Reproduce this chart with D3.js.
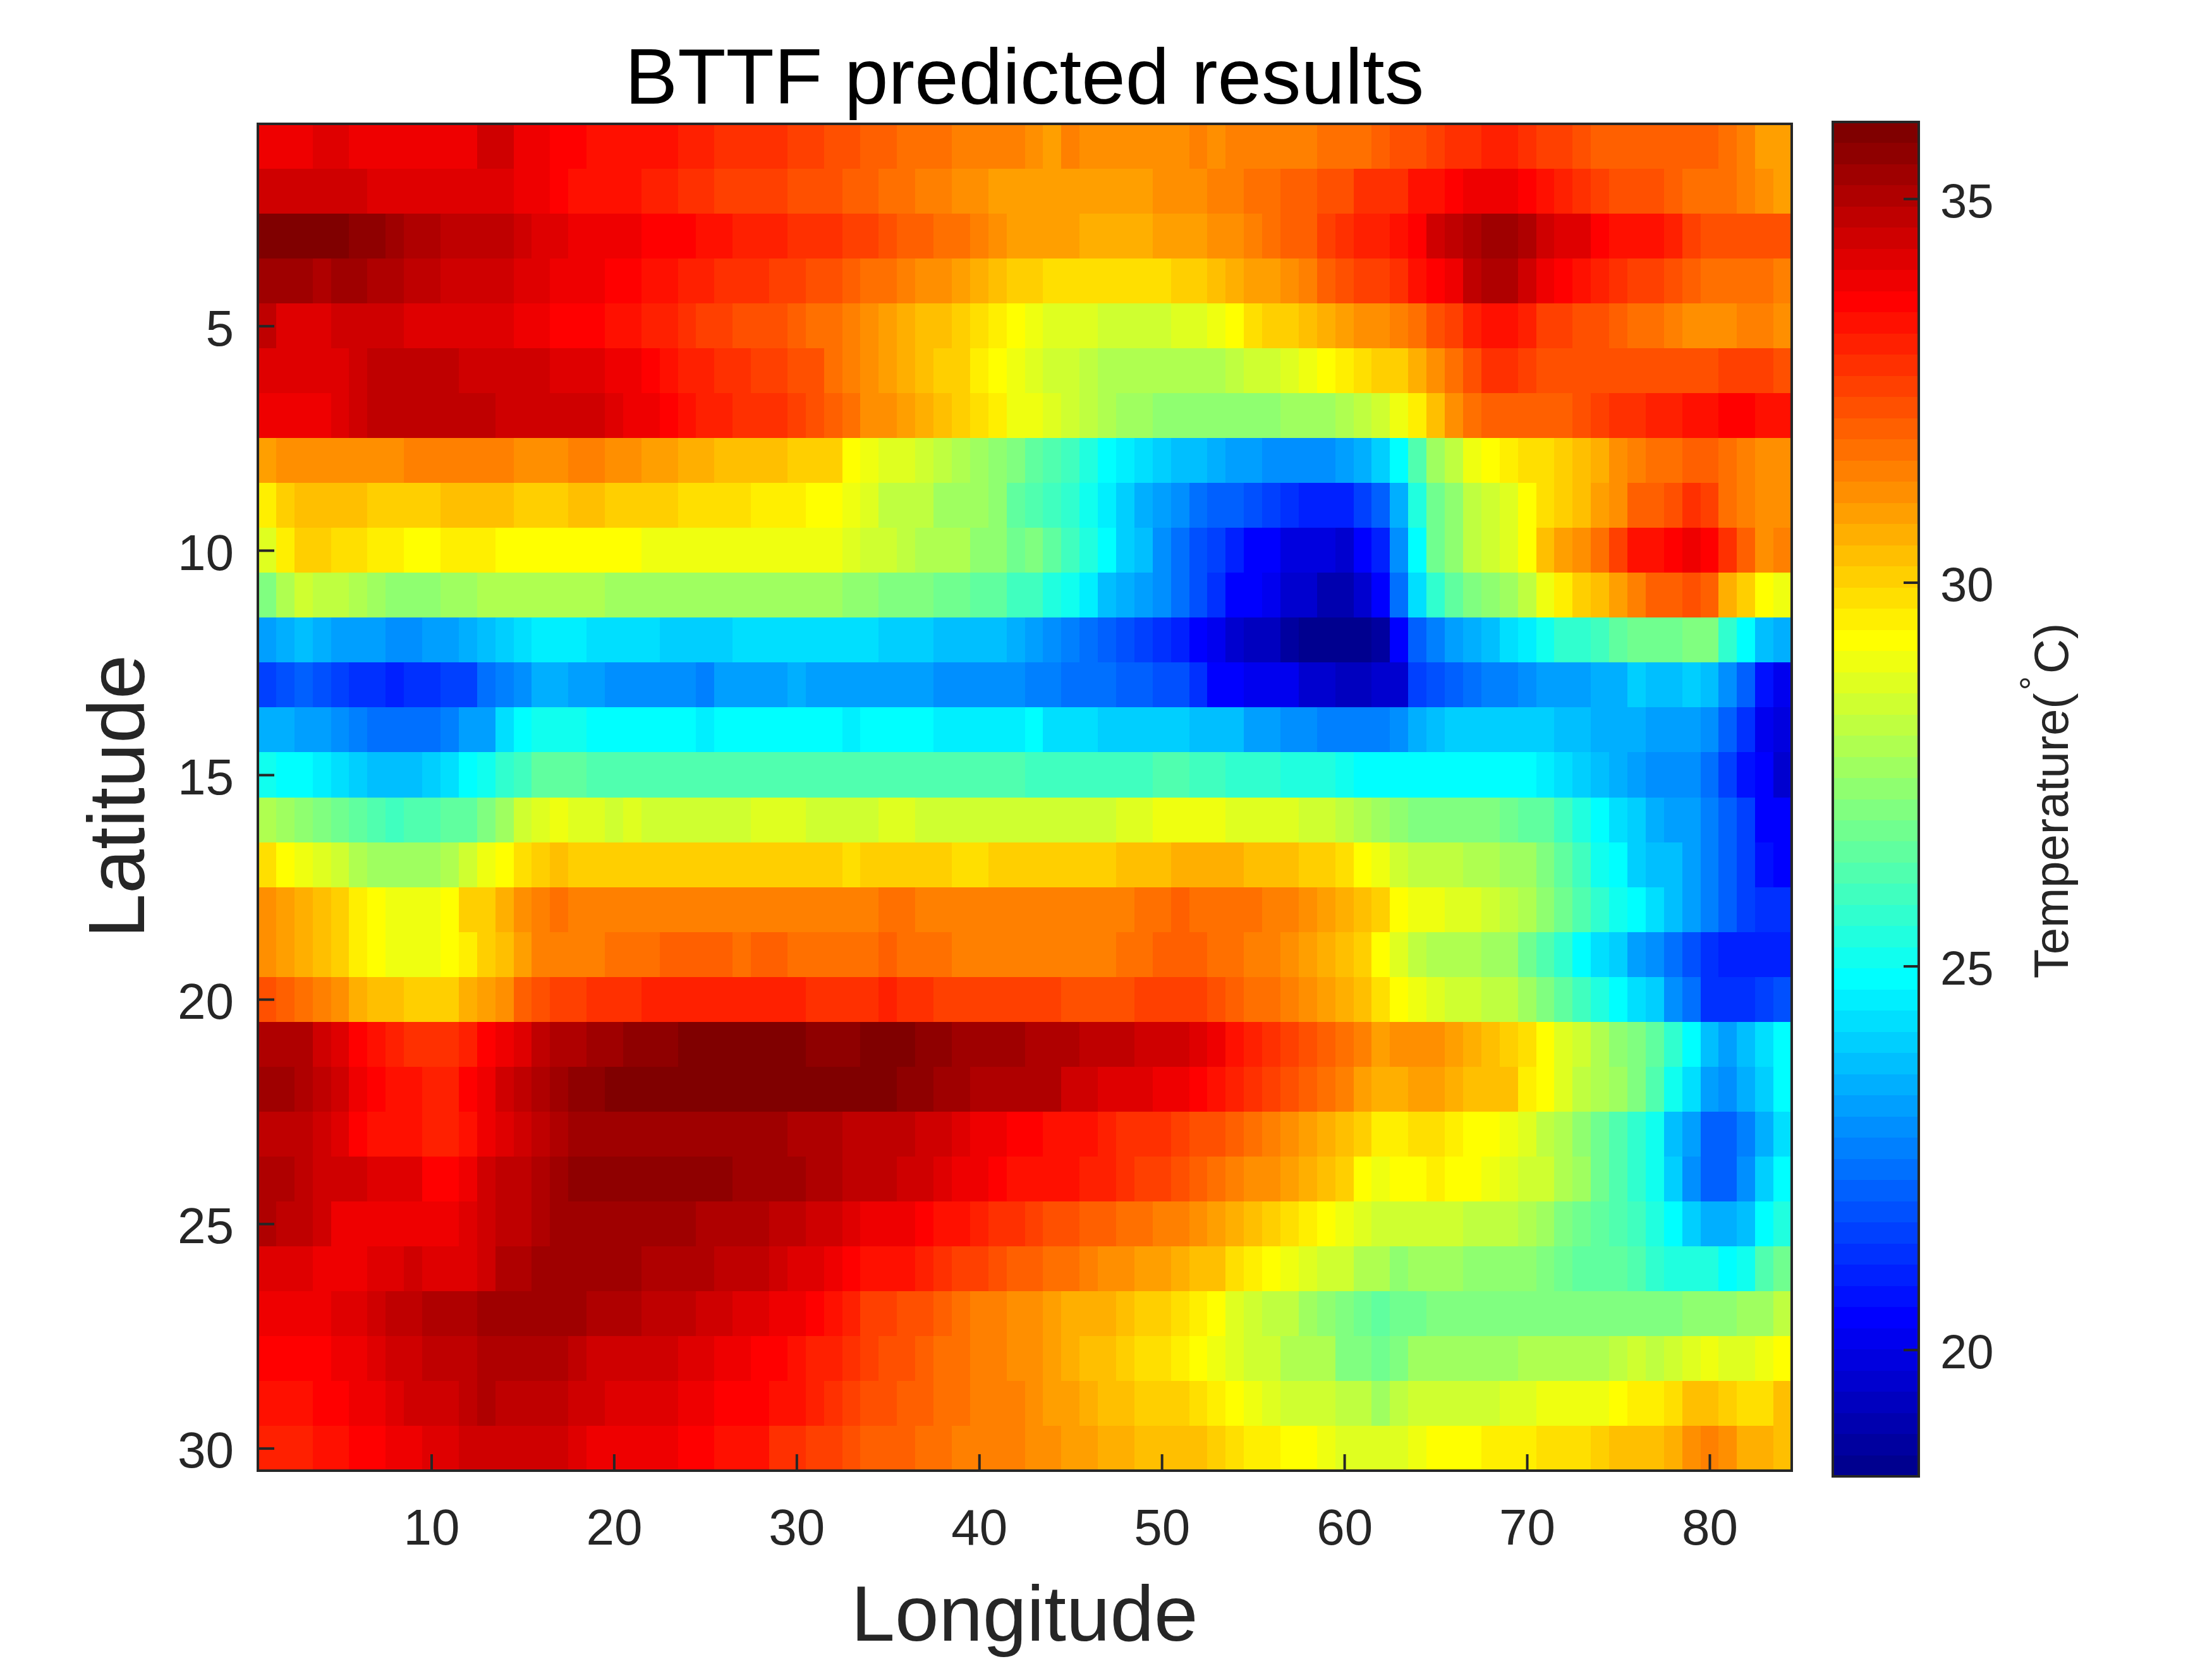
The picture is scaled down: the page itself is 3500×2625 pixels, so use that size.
<!DOCTYPE html>
<html>
<head>
<meta charset="utf-8">
<title>BTTF predicted results</title>
<script src="https://cdn.jsdelivr.net/npm/d3@7"></script>
<style>
    body { margin: 0; background: #fff; }
    text { font-family: "Liberation Sans", Arial, sans-serif; }
</style>
</head>
<body>
<div id="chart"></div>
<script>
// temperature per latitude row, longitude 1..84
// written as runs: value, number of columns it holds for
const row01 = [33.9,3,34.2,2,33.9,7,34.5,2,33.9,2,33.6,2,33.4,5,33.1,2,32.8,4,32.5,2,32.3,2,32.0,2,31.7,3,31.4,4,31.2,1,30.9,1,31.4,1,31.2,6,31.4,1,31.2,1,31.4,5,31.7,3,32.0,1,32.3,2,32.5,1,32.8,2,33.1,2,32.8,1,32.5,2,32.3,1,32.0,7,31.7,1,31.4,1,30.9,2];
const row02 = [34.5,6,34.2,8,33.9,2,33.6,1,33.4,4,33.1,2,32.8,2,32.5,4,32.3,3,32.0,2,31.7,2,31.4,2,31.2,2,30.9,2,30.9,7,31.2,3,31.4,2,31.7,2,32.0,2,32.3,2,32.8,3,33.4,2,33.6,1,33.9,3,33.6,1,33.4,1,33.1,1,32.8,1,32.5,1,32.3,3,32.0,1,31.7,3,31.4,1,31.2,1,30.9,1];
const row03 = [35.9,5,35.6,2,35.3,1,35.0,2,34.8,4,34.5,1,34.2,2,33.9,4,33.6,3,33.4,2,33.1,3,32.8,3,32.5,2,32.3,1,32.0,2,31.7,2,31.4,1,31.2,1,30.9,1,30.9,3,30.6,4,30.9,3,31.2,2,31.4,1,31.7,1,32.0,2,32.5,1,32.8,1,33.1,2,33.4,1,33.6,1,34.5,1,34.8,1,35.0,1,35.3,2,35.0,1,34.5,1,34.2,2,33.6,1,33.4,3,33.1,1,32.5,1,32.3,5];
const row04 = [35.3,3,35.0,1,35.3,2,35.0,2,34.8,2,34.5,4,34.2,2,33.9,3,33.6,2,33.4,2,33.1,2,32.8,3,32.5,2,32.3,2,32.0,1,31.7,2,31.4,1,31.2,2,30.9,1,30.6,1,30.3,1,30.1,1,30.1,1,29.8,7,30.1,2,30.3,1,30.6,1,30.9,2,31.2,1,31.4,1,32.0,1,32.3,1,32.5,2,32.8,1,33.4,1,33.6,1,33.9,1,34.8,1,35.0,2,34.5,1,33.9,1,33.6,1,33.4,1,33.1,1,32.8,1,32.5,2,32.3,1,32.0,1,31.7,4,31.4,1];
const row05 = [34.8,1,34.2,3,34.5,4,34.2,6,33.9,2,33.6,3,33.4,2,33.1,2,32.8,1,32.5,2,32.3,3,32.0,1,31.7,2,31.4,1,31.2,1,30.9,1,30.6,1,30.3,2,30.1,1,29.8,1,29.5,1,29.2,1,29.0,1,28.7,3,28.4,4,28.7,2,29.0,1,29.2,1,29.8,1,30.1,2,30.3,1,30.6,1,30.9,1,31.2,2,31.4,1,31.7,1,32.3,1,32.5,1,33.1,1,33.4,2,33.1,1,32.5,2,32.3,2,32.0,1,31.7,2,31.4,1,31.2,3,31.4,2,31.2,1];
const row06 = [34.2,5,34.5,1,34.8,5,34.5,5,34.2,3,33.9,2,33.6,1,33.4,1,33.1,2,32.8,2,32.5,2,32.3,2,31.7,1,31.4,1,31.2,1,30.9,1,30.6,1,30.3,1,30.1,2,29.5,1,29.2,1,29.0,1,28.7,1,28.4,2,28.1,1,27.9,7,28.1,1,28.4,2,28.7,1,29.0,1,29.2,1,29.5,1,29.8,1,30.1,2,30.6,1,31.2,1,31.7,1,32.3,1,32.8,2,32.5,1,32.3,10,32.5,3,32.3,1];
const row07 = [33.9,4,34.2,1,34.5,1,34.8,7,34.5,6,34.2,1,33.9,2,33.6,1,33.4,1,33.1,2,32.8,3,32.5,1,32.3,1,32.0,1,31.7,1,31.2,2,30.9,1,30.6,1,30.3,1,30.1,1,29.8,1,29.5,1,29.0,1,29.0,1,28.7,1,28.4,1,28.1,1,27.9,1,27.6,2,27.3,7,27.6,3,27.9,1,28.1,1,28.4,1,29.0,1,29.5,1,30.3,1,31.2,1,31.7,1,32.0,5,32.3,1,32.5,1,32.8,2,33.1,2,33.4,2,33.6,2,33.4,2];
const row08 = [30.9,1,31.2,7,31.4,6,31.2,3,31.4,2,31.2,2,30.9,2,30.6,2,30.3,4,30.1,3,29.2,1,29.0,1,28.7,2,28.4,1,28.1,1,27.9,1,27.6,1,27.3,1,27.0,1,26.5,1,26.2,1,25.9,1,25.4,1,24.8,1,24.6,1,24.3,1,24.0,1,23.7,2,23.5,1,23.2,2,22.9,4,23.2,1,23.5,1,24.0,1,24.8,1,26.2,1,27.6,1,28.1,1,29.0,1,29.2,1,29.5,1,29.8,2,30.1,1,30.3,1,30.6,1,31.2,1,31.4,1,31.7,2,32.0,2,31.7,1,31.4,1,31.2,2];
const row09 = [29.5,1,30.1,1,30.3,4,30.1,4,30.3,4,30.1,3,30.3,2,30.1,4,29.8,4,29.5,3,29.2,2,29.0,1,28.7,1,28.1,3,27.6,3,27.3,1,26.5,1,26.2,1,25.9,1,25.7,1,25.1,1,24.6,1,24.0,1,23.5,1,23.2,1,22.9,1,22.3,1,22.1,2,21.8,1,21.5,1,21.2,1,21.0,3,21.5,1,22.1,1,23.5,1,25.4,1,26.8,1,27.3,1,28.1,1,28.4,1,28.7,1,29.2,1,29.8,1,30.1,1,30.3,1,30.9,1,31.2,1,32.0,2,32.3,1,32.8,1,32.5,1,31.7,1,31.4,1,31.2,2];
const row10 = [28.7,1,29.5,1,30.1,2,29.8,2,29.5,2,29.2,2,29.5,3,29.2,8,29.0,11,28.7,1,28.4,2,28.1,1,27.9,3,27.3,2,26.8,1,27.0,1,26.5,1,25.9,1,25.4,1,24.8,1,24.0,1,23.7,1,22.9,1,22.3,1,21.8,1,21.5,1,21.0,1,20.4,2,19.9,3,19.6,1,20.4,1,21.0,1,22.9,1,24.8,1,26.8,1,27.3,1,28.1,1,28.4,1,28.7,1,29.2,1,30.3,1,30.9,1,31.2,1,31.7,1,32.5,1,33.4,2,33.6,1,33.9,1,33.6,1,32.8,1,32.0,1,31.2,1,31.4,1];
const row11 = [27.0,1,27.9,1,28.4,1,28.1,2,27.9,1,27.6,1,27.3,3,27.6,2,27.9,7,27.6,13,27.3,2,27.0,3,26.8,2,26.5,2,25.9,1,25.9,1,25.4,1,25.1,1,24.6,1,23.7,1,23.5,1,23.2,1,22.9,1,22.3,1,21.8,1,21.2,1,20.4,2,20.1,1,19.6,2,19.0,2,19.6,1,20.4,1,22.3,1,24.3,1,25.7,1,26.5,1,27.0,1,27.3,1,27.6,1,28.1,1,29.0,1,29.5,1,30.1,1,30.3,1,30.9,1,31.4,1,32.0,2,32.3,1,32.0,1,30.6,1,30.1,1,29.2,1,29.0,1];
const row12 = [23.2,1,23.5,1,23.7,1,23.5,1,23.2,3,22.9,2,23.2,2,23.5,1,23.7,1,24.0,1,24.3,1,24.6,3,24.3,4,24.0,4,24.3,8,24.0,3,23.7,4,23.5,1,23.2,1,22.9,1,22.6,1,22.3,1,22.1,1,21.8,1,21.5,1,21.2,1,21.0,1,20.4,1,20.1,1,19.6,1,19.3,2,18.8,1,18.5,4,18.8,1,20.4,1,22.1,1,22.6,1,23.2,1,23.5,1,23.7,1,24.3,1,24.6,1,25.1,1,25.7,2,25.9,1,26.5,1,26.8,3,27.0,2,25.7,1,24.8,1,23.7,1,23.5,1];
const row13 = [21.5,1,21.8,1,22.1,1,21.8,1,21.5,1,21.2,2,21.0,1,21.2,2,21.5,2,22.3,1,22.6,1,22.9,1,23.5,2,23.2,2,22.9,5,22.6,1,23.2,4,23.5,1,23.2,7,22.9,5,22.6,2,22.3,3,22.1,2,21.8,2,21.2,1,20.4,2,20.1,3,19.6,2,19.3,2,19.6,2,21.5,1,21.8,1,22.1,1,22.3,1,22.6,2,22.9,1,23.2,3,23.5,2,24.0,1,23.7,2,24.0,1,23.7,1,22.9,1,22.1,1,20.7,1,20.1,1];
const row14 = [23.5,2,23.2,2,22.9,1,22.6,1,22.3,4,22.6,1,23.2,2,24.3,1,24.8,1,25.1,3,24.8,6,24.6,1,24.8,7,24.6,1,24.8,4,24.6,5,24.8,1,24.3,3,24.0,5,23.7,2,23.7,1,23.2,2,22.9,2,22.6,4,22.9,1,23.5,1,23.7,1,24.0,6,23.7,2,23.5,3,23.2,3,22.9,1,22.1,1,21.2,1,20.1,1,19.9,1];
const row15 = [25.1,1,24.8,2,24.6,1,24.3,1,24.0,1,23.7,3,24.0,1,24.3,1,24.8,1,25.1,1,25.7,1,25.9,1,26.5,3,26.2,24,25.9,7,26.2,2,25.9,2,25.7,3,25.4,3,25.1,1,24.8,10,24.6,1,24.3,1,24.0,1,23.7,1,23.5,1,23.2,1,22.9,3,22.3,1,21.5,1,20.7,1,20.4,1,19.6,1];
const row16 = [27.9,1,27.6,1,27.3,1,27.0,1,26.8,1,26.5,1,26.2,1,25.9,1,26.2,2,26.5,2,27.0,1,27.6,1,28.4,1,28.7,1,29.0,1,28.7,2,28.4,1,28.7,1,28.4,6,28.7,3,28.4,4,28.7,2,28.4,6,28.4,5,28.7,2,29.0,4,28.7,4,28.4,2,28.1,1,27.9,1,27.6,1,27.3,1,27.0,5,26.8,1,26.5,2,25.9,1,25.4,1,24.8,1,24.3,1,24.0,1,23.5,1,23.2,2,22.6,1,22.1,1,21.5,1,20.4,2];
const row17 = [29.8,1,29.2,1,29.0,1,28.7,1,28.4,1,27.9,1,27.6,4,27.9,1,28.4,1,29.0,1,29.2,1,29.8,1,30.1,1,30.3,1,30.1,15,29.8,1,30.1,5,29.8,2,30.1,2,30.1,5,30.3,3,30.6,4,30.3,3,30.1,2,29.8,1,29.2,1,29.0,1,28.4,1,28.1,3,27.9,2,27.6,2,27.0,1,26.5,1,25.9,1,25.1,1,24.8,1,24.0,1,23.7,2,23.2,1,22.6,1,22.1,1,21.5,1,20.7,1,20.4,1];
const row18 = [31.2,1,30.9,1,30.6,1,30.3,1,30.1,1,29.5,1,29.2,1,29.0,3,29.2,1,30.1,2,30.6,1,31.2,1,31.4,1,31.7,1,31.4,17,31.7,2,31.4,6,31.4,6,31.7,2,32.0,1,31.7,4,31.4,2,31.2,1,30.9,1,30.6,1,30.3,1,30.1,1,29.2,1,29.0,2,28.7,2,28.4,1,28.1,1,27.9,1,27.3,1,26.8,1,26.2,1,25.7,1,25.1,1,24.8,1,24.3,1,23.7,1,23.2,1,22.6,1,22.1,1,21.5,1,21.2,2];
const row19 = [31.2,1,30.9,1,30.6,1,30.3,1,30.1,1,29.5,1,29.2,1,29.0,3,29.2,1,29.5,1,30.1,1,30.3,1,30.9,1,31.4,4,31.7,3,32.0,4,31.7,1,32.0,2,31.7,5,32.0,1,31.7,3,31.4,4,31.4,5,31.7,2,32.0,3,31.7,2,31.4,2,31.2,1,30.9,1,30.6,1,30.3,1,30.1,1,29.2,1,28.7,1,28.1,1,27.9,3,27.6,2,26.8,1,26.2,1,25.7,1,24.8,1,24.3,1,24.0,1,23.2,1,22.9,1,22.3,1,21.8,1,21.2,1,21.0,4];
const row20 = [32.3,1,32.0,1,31.7,1,31.4,1,31.2,1,30.6,1,30.3,2,30.1,3,30.6,1,30.9,1,31.2,1,32.0,1,32.3,1,32.5,2,32.8,3,33.1,9,32.8,4,33.1,1,32.8,2,32.5,5,32.5,2,32.3,4,32.5,4,32.3,1,32.0,1,31.7,2,31.4,1,31.2,1,30.9,1,30.6,1,30.3,1,29.8,1,29.2,1,29.0,1,28.7,1,28.4,2,28.1,2,27.6,1,27.0,1,26.5,1,25.9,1,25.4,1,24.8,1,24.3,1,24.0,1,22.9,1,22.3,1,21.2,3,21.5,1,21.8,1];
const row21 = [35.0,3,34.5,1,34.2,1,33.6,1,33.4,1,33.1,1,32.8,3,33.1,1,33.6,1,33.9,1,34.2,1,34.8,1,35.0,2,35.3,2,35.6,3,35.9,7,35.6,3,35.9,3,35.6,2,35.3,4,35.0,3,34.8,3,34.5,3,34.2,1,33.9,1,33.4,1,33.1,1,32.8,1,32.5,1,32.3,1,32.0,1,31.7,1,31.4,1,30.9,1,31.2,3,30.9,1,30.6,1,30.3,1,30.1,1,29.8,1,29.2,1,28.7,1,28.4,1,27.9,1,27.3,1,27.0,1,26.5,1,25.7,1,24.8,1,23.7,1,23.2,1,23.7,1,24.3,1,24.8,1];
const row22 = [35.3,2,35.0,1,34.8,1,34.5,1,33.9,1,33.6,1,33.4,2,33.1,2,33.6,1,33.9,1,34.5,1,34.8,1,35.0,1,35.3,1,35.6,2,35.9,16,35.6,2,35.3,2,35.0,3,35.0,2,34.5,2,34.2,3,33.9,2,33.6,1,33.4,1,33.1,1,32.8,1,32.5,1,32.3,1,32.0,1,31.7,1,31.4,1,30.9,1,30.6,2,30.9,2,30.6,1,30.3,1,30.3,2,29.5,1,29.2,1,28.7,1,28.1,1,27.9,1,27.6,1,27.0,1,26.2,1,25.1,1,24.3,1,23.2,1,22.9,1,23.5,1,24.0,1,24.8,1];
const row23 = [34.8,3,34.5,1,34.2,1,33.6,1,33.4,3,33.1,2,33.4,1,33.9,1,34.2,1,34.5,1,34.8,1,35.0,1,35.3,12,35.0,3,34.8,4,34.5,2,34.2,1,33.9,2,33.6,1,33.6,1,33.4,3,33.1,1,32.8,3,32.5,1,32.3,2,32.0,1,31.7,1,31.4,1,31.2,1,30.9,1,30.6,1,30.3,1,30.1,1,29.5,2,29.8,2,29.5,1,29.2,2,29.0,1,28.7,1,28.1,1,27.9,1,27.3,1,26.8,1,26.2,1,25.7,1,25.1,1,23.7,1,23.2,1,22.1,2,22.6,1,23.5,1,24.3,1];
const row24 = [35.0,2,34.8,1,34.5,3,34.2,3,33.6,2,33.9,1,34.5,1,34.8,2,35.0,1,35.3,1,35.6,9,35.3,4,35.0,2,34.8,3,34.5,2,34.2,1,33.9,2,33.6,1,33.4,1,33.4,1,33.4,2,33.1,2,32.8,1,32.5,2,32.3,1,32.0,1,31.7,1,31.4,1,31.2,2,30.9,1,30.6,1,30.3,1,30.1,1,29.2,1,29.0,1,29.2,2,29.5,1,29.2,2,29.0,1,28.7,1,28.4,2,27.9,1,27.6,1,26.8,1,26.2,1,25.7,1,25.1,1,24.0,1,22.9,1,22.1,2,22.9,1,24.0,1,24.8,1];
const row25 = [35.0,1,34.8,2,34.5,1,33.9,7,34.2,1,34.5,1,34.8,2,35.0,1,35.3,8,35.0,4,34.8,2,34.5,2,34.2,1,33.9,3,33.6,1,33.4,2,33.1,1,32.8,2,32.5,1,32.3,2,32.0,2,31.7,2,31.4,2,31.2,1,30.9,1,30.6,1,30.3,1,30.1,1,29.8,1,29.5,1,29.2,1,29.0,1,28.7,1,28.4,5,28.1,3,27.9,1,27.6,1,27.0,1,26.8,1,26.5,1,26.2,1,25.9,1,25.4,1,24.8,1,24.0,1,23.5,2,23.7,1,24.8,1,25.4,1];
const row26 = [34.2,3,33.9,3,34.2,2,34.5,1,34.2,3,34.5,1,35.0,2,35.3,6,35.0,4,34.8,3,34.5,1,34.2,2,33.9,1,33.6,1,33.4,3,33.1,1,32.8,1,32.5,2,32.3,1,32.0,1,32.0,1,31.7,2,31.4,1,31.2,2,30.9,2,30.6,1,30.3,2,29.8,1,29.5,1,29.2,1,29.0,1,28.7,1,28.4,2,27.9,2,27.3,1,27.6,3,27.3,4,27.0,1,26.8,1,26.5,3,26.2,1,25.7,1,25.4,3,24.8,1,25.1,1,26.2,1,26.8,1];
const row27 = [33.9,4,34.2,2,34.5,1,34.8,2,35.0,3,35.3,6,35.0,3,34.8,3,34.5,2,34.2,2,33.9,2,33.6,1,33.4,1,33.1,1,32.5,2,32.3,2,32.0,1,31.7,1,31.4,2,31.2,1,31.2,1,30.9,1,30.6,3,30.3,1,30.1,2,29.8,1,29.5,1,29.2,1,28.7,1,28.4,1,28.1,2,27.6,1,27.3,1,27.0,1,26.8,1,26.5,1,26.8,2,27.0,14,27.3,3,27.6,2,28.1,1];
const row28 = [33.6,4,33.9,2,34.2,1,34.5,2,34.8,3,35.0,5,34.8,1,34.5,5,34.2,2,33.9,2,33.6,2,33.4,1,33.1,2,32.8,1,32.5,1,32.3,2,32.0,1,31.7,2,31.4,2,31.2,1,31.2,1,30.9,1,30.6,1,30.3,2,30.1,1,29.8,2,29.5,1,29.2,1,29.0,1,28.7,1,28.4,2,27.9,3,27.0,2,26.8,1,27.0,1,27.6,6,27.9,5,28.1,1,28.4,1,28.1,1,28.4,1,28.7,1,29.0,1,28.7,2,29.0,1,29.2,1];
const row29 = [33.4,3,33.6,2,33.9,2,34.2,1,34.5,3,34.8,1,35.0,1,34.8,4,34.5,2,34.2,4,33.9,2,33.6,3,33.4,2,33.1,1,32.8,1,32.5,1,32.3,2,32.0,2,31.7,2,31.4,3,31.2,1,30.9,2,30.6,1,30.3,2,30.1,3,29.8,1,29.5,1,29.2,1,29.0,1,28.7,1,28.4,3,28.1,2,27.6,1,28.1,1,28.4,5,28.7,2,29.0,4,29.2,1,29.5,2,29.8,1,30.3,2,30.1,1,29.8,2,30.3,1];
const row30 = [33.1,3,33.4,2,33.6,2,33.9,2,34.2,2,34.5,6,34.2,1,33.9,5,33.6,2,33.4,3,32.8,2,32.5,2,32.3,1,32.0,3,31.7,2,31.4,4,31.2,2,30.9,2,30.6,2,30.3,4,30.1,1,29.8,1,29.5,2,29.2,2,29.0,1,28.7,4,29.0,1,29.2,3,29.5,3,29.8,3,30.1,1,30.3,3,30.6,1,31.2,1,31.4,1,31.2,1,30.6,2,30.3,1];

const latitudeRuns = [row01,row02,row03,row04,row05,row06,row07,row08,row09,row10,
    row11,row12,row13,row14,row15,row16,row17,row18,row19,row20,
    row21,row22,row23,row24,row25,row26,row27,row28,row29,row30];

const xTicks = [10,20,30,40,50,60,70,80];
const yTicks = [5,10,15,20,25,30];
const colorbarTicks = [20,25,30,35];
const colorLimits = [18.35,36];

const titleText = "BTTF predicted results";
const xLabelText = "Longitude";
const yLabelText = "Latitude";

// matlab jet(64)
function jetColors(m){
    const n = Math.ceil(m/4);
    const u = [];
    for(let i=1;i<=n;i++) u.push(i/n);
    for(let i=1;i<n;i++) u.push(1);
    for(let i=n;i>=1;i--) u.push(i/n);
    const cols = d3.range(m).map(()=>[0,0,0]);
    u.forEach((v,k)=>{
        const g = Math.ceil(n/2)+k+1;
        if(g+n<=m) cols[g+n-1][0]=v;
        if(g<=m) cols[g-1][1]=v;
        if(g-n>=1) cols[g-n-1][2]=v;
    });
    return cols.map(c=>d3.rgb(c[0]*255,c[1]*255,c[2]*255).formatHex());
}

// unroll the runs into a list of cells
function buildCells(rows){
    const cells = [];
    rows.forEach((runs,r)=>{
        let col = 1;
        for(let i=0;i<runs.length;i+=2){
            for(let k=0;k<runs[i+1];k++){
                cells.push({lat:r+1,lon:col,temp:runs[i]});
                col++;
            }
        }
        if(col!==85) throw new Error("row "+(r+1)+" has "+(col-1)+" columns");
    });
    return cells;
}

const inkColor = "#262626";
const palette = jetColors(64);
const color = d3.scaleQuantize().domain(colorLimits).range(palette);

const svg = d3.select("#chart").append("svg")
    .attr("width",3500)
    .attr("height",2625)
    .style("display","block");

const xScale = d3.scaleLinear().domain([0.5,84.5]).range([408,2835]);
const yScale = d3.scaleLinear().domain([0.5,30.5]).range([196,2327]);
const cbScale = d3.scaleLinear().domain(colorLimits).range([2336,193]);

// heatmap
svg.append("g").attr("class","cellsG")
    .attr("shape-rendering","crispEdges")
    .selectAll("rect")
    .data(buildCells(latitudeRuns))
    .join("rect")
    .attr("x",d=>xScale(d.lon-0.5))
    .attr("y",d=>yScale(d.lat-0.5))
    .attr("width",d=>xScale(d.lon+0.5)-xScale(d.lon-0.5))
    .attr("height",d=>yScale(d.lat+0.5)-yScale(d.lat-0.5))
    .attr("fill",d=>color(d.temp));

const xAxis = d3.axisBottom(xScale).tickValues(xTicks).tickSizeInner(-26).tickSizeOuter(0).tickPadding(60);
const yAxis = d3.axisLeft(yScale).tickValues(yTicks).tickSizeInner(-26).tickSizeOuter(0).tickPadding(38);

const xAxisG = svg.append("g").attr("transform","translate(0,2327)").call(xAxis);
const yAxisG = svg.append("g").attr("transform","translate(408,0)").call(yAxis);

svg.append("rect")
    .attr("x",408).attr("y",196)
    .attr("width",2835-408).attr("height",2327-196)
    .attr("fill","none").attr("stroke",inkColor).attr("stroke-width",4);

// colorbar
const levels = d3.range(64);
const levelStep = (colorLimits[1]-colorLimits[0])/64;
svg.append("g").attr("shape-rendering","crispEdges")
    .selectAll("rect")
    .data(levels)
    .join("rect")
    .attr("x",2900)
    .attr("width",136)
    .attr("y",d=>cbScale(colorLimits[0]+(d+1)*levelStep))
    .attr("height",d=>cbScale(colorLimits[0]+d*levelStep)-cbScale(colorLimits[0]+(d+1)*levelStep))
    .attr("fill",d=>palette[d]);

const cbAxis = d3.axisRight(cbScale).tickValues(colorbarTicks).tickSizeInner(-24).tickSizeOuter(0).tickPadding(34);
const cbAxisG = svg.append("g").attr("transform","translate(3036,0)").call(cbAxis);

svg.append("rect")
    .attr("x",2900).attr("y",193)
    .attr("width",136).attr("height",2336-193)
    .attr("fill","none").attr("stroke",inkColor).attr("stroke-width",4);

[xAxisG,yAxisG,cbAxisG].forEach(g=>{
    g.select(".domain").remove();
    g.selectAll("line").attr("stroke",inkColor).attr("stroke-width",4);
    g.selectAll("text").attr("fill",inkColor).style("font-family",'"Liberation Sans", Arial, sans-serif');
});
xAxisG.selectAll("text").style("font-size","80px");
yAxisG.selectAll("text").style("font-size","80px").attr("dy","0.38em");
cbAxisG.selectAll("text").style("font-size","76px").attr("dy","0.38em");

// titles
svg.append("text")
    .attr("x",1621).attr("y",164)
    .attr("text-anchor","middle")
    .style("font-size","125px")
    .attr("fill","#000")
    .text(titleText);

svg.append("text")
    .attr("x",1621).attr("y",2596)
    .attr("text-anchor","middle")
    .style("font-size","125px")
    .attr("fill",inkColor)
    .text(xLabelText);

svg.append("text")
    .attr("transform","translate(228,1260) rotate(-90)")
    .attr("text-anchor","middle")
    .style("font-size","126px")
    .attr("fill",inkColor)
    .text(yLabelText);

const cbLabel = svg.append("text")
    .attr("transform","translate(3272,1267) rotate(-90)")
    .attr("text-anchor","middle")
    .style("font-size","76px")
    .attr("fill",inkColor);
cbLabel.append("tspan").text("Temperature(");
cbLabel.append("tspan").attr("dy",-37).attr("dx",4).style("font-size","56px").text("\u00B0");
cbLabel.append("tspan").attr("dy",37).attr("dx",4).text("C)");
</script>
</body>
</html>
